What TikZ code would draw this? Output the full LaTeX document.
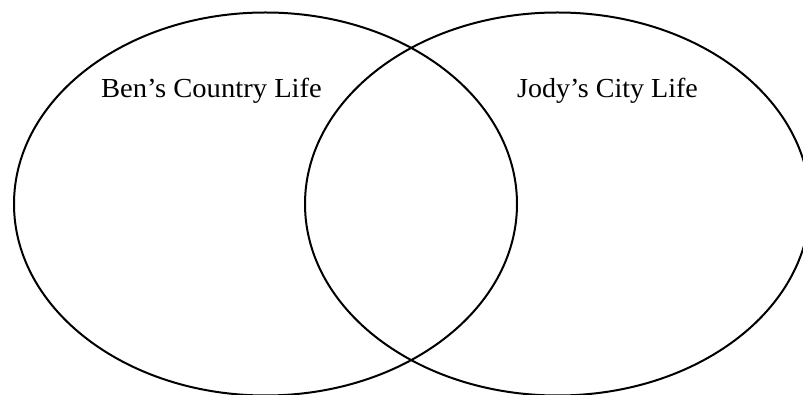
\documentclass[tikz,border=0pt]{standalone}
\usepackage{fontspec}
\setmainfont{Liberation Serif}
\usetikzlibrary{shapes.geometric}
\begin{document}
\begin{tikzpicture}[x=1pt,y=-1pt,
  setring/.style={draw=black,line width=2pt,ellipse,inner sep=0pt,minimum height=383pt},
  setlabel/.style={anchor=base,inner sep=0pt,font=\fontsize{27.5}{32}\selectfont}]
\useasboundingbox (0,0) rectangle (803,395);
\begin{scope}
\clip (0,0) rectangle (803,395);
\node[setring,minimum width=503pt] (ben) at (265.5,204) {};
\node[setring,minimum width=505pt] (jody) at (557.5,204) {};
\end{scope}
\node[setlabel] (benlabel) at (211.5,98) {\scalebox{1.04}[1]{Ben’s Country Life}};
\node[setlabel] (jodylabel) at (607.5,98) {\scalebox{1.02}[1]{Jody’s City Life}};
\end{tikzpicture}
\end{document}
